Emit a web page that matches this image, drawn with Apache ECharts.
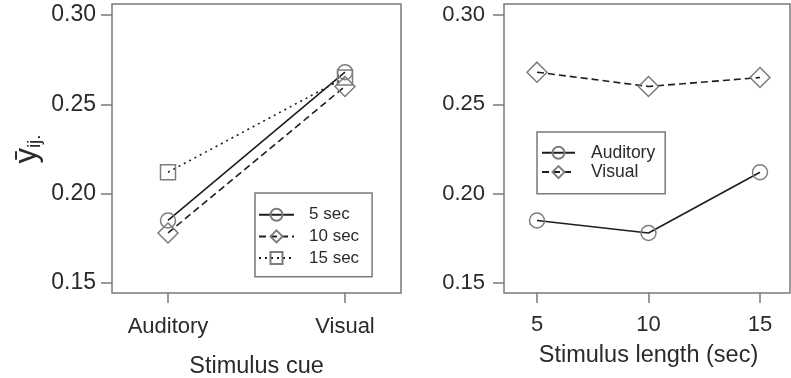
<!DOCTYPE html>
<html><head><meta charset="utf-8">
<script src="https://cdn.jsdelivr.net/npm/echarts@6/dist/echarts.min.js"></script>
<style>html,body{margin:0;padding:0;background:#fff}#c{width:791px;height:378px}</style>
</head><body><div id="c"></div>
<script>
// ---- data ----
const cueLabels = ['Auditory', 'Visual'];
const lengthLabels = ['5', '10', '15'];
const sec5 = [0.185, 0.268];
const sec10 = [0.178, 0.260];
const sec15 = [0.212, 0.265];
const auditory = [0.185, 0.178, 0.212];
const visual = [0.268, 0.260, 0.265];
const yTicks = [0.15, 0.20, 0.25, 0.30];

// ---- styles ----
const FONT = 'Liberation Sans';
const FRAME = '#7a7a7a';
const TXT = '#2a2a2a';
const LINE = '#1e1e1e';
const MARK = '#7d7d7d';

const chart = echarts.init(document.getElementById('c'), null, {renderer: 'canvas'});

function innerY(gridIndex, offset, margin, size) {
  return {
    type: 'value', gridIndex: gridIndex, min: yTicks[0], max: yTicks[yTicks.length - 1], interval: 0.05,
    offset: offset, splitLine: {show: false},
    axisLine: {show: false},
    axisTick: {show: true, length: 11, lineStyle: {color: FRAME, width: 1.5}},
    axisLabel: {margin: margin, fontFamily: FONT, fontSize: size, color: TXT, formatter: v => v.toFixed(2)}
  };
}
function innerX(gridIndex, data, name, nameGap, margin) {
  return {
    type: 'category', gridIndex: gridIndex, data: data, boundaryGap: false, offset: 10,
    axisLine: {show: false},
    axisTick: {show: true, length: 10, lineStyle: {color: FRAME, width: 1.5}},
    axisLabel: {margin: margin, fontFamily: FONT, fontSize: 22, color: TXT},
    name: name, nameLocation: 'middle', nameGap: nameGap,
    nameTextStyle: {fontFamily: FONT, fontSize: 23.5, color: TXT}
  };
}
function hiddenAxis(type, gridIndex) {
  return {type: 'value', gridIndex: gridIndex, show: false, min: 0, max: 1};
}
function mkSeries(name, data, xi, symbol, size, lineType) {
  return {
    type: 'line', name: name, data: data, xAxisIndex: xi, yAxisIndex: xi,
    symbol: symbol, symbolSize: size, showSymbol: true,
    lineStyle: {color: LINE, width: 1.6, type: lineType},
    itemStyle: {color: 'rgba(0,0,0,0)', borderColor: MARK, borderWidth: 1.5},
    emphasis: {disabled: true}, animation: false
  };
}
const G = {containLabel: false, outerBoundsMode: 'none'};

const option = {
  animation: false,
  grid: [
    Object.assign({left: 112, top: 4, width: 289, height: 289, show: true, borderColor: FRAME, borderWidth: 1.5, backgroundColor: 'transparent'}, G),
    Object.assign({left: 168, top: 15, width: 177, height: 268}, G),
    Object.assign({left: 504, top: 4, width: 286, height: 289, show: true, borderColor: FRAME, borderWidth: 1.5, backgroundColor: 'transparent'}, G),
    Object.assign({left: 537, top: 15, width: 223, height: 268}, G)
  ],
  xAxis: [
    innerX(1, cueLabels, 'Stimulus cue', 62, 23),
    innerX(3, lengthLabels, 'Stimulus length (sec)', 51, 21),
    hiddenAxis('x', 0),
    hiddenAxis('x', 2)
  ],
  yAxis: [
    innerY(1, 56, 16, 23),
    innerY(3, 33, 19, 22),
    hiddenAxis('y', 0),
    hiddenAxis('y', 2)
  ],
  legend: [
    {
      data: ['5 sec', '10 sec', '15 sec'], orient: 'vertical', left: 255, top: 193,
      padding: [11, 13, 8, 3], borderColor: FRAME, borderWidth: 1.5,
      itemWidth: 35, itemHeight: 15, itemGap: 0, selectedMode: false,
      textStyle: {fontFamily: FONT, fontSize: 17, color: TXT, lineHeight: 21.6, padding: [0, 0, 0, 10]}
    },
    {
      data: ['Auditory', 'Visual'], orient: 'vertical', left: 537, top: 132,
      padding: [11, 10, 12, 4], borderColor: FRAME, borderWidth: 1.5,
      itemWidth: 33, itemHeight: 15, itemGap: 0, selectedMode: false,
      textStyle: {fontFamily: FONT, fontSize: 17.5, color: TXT, lineHeight: 19.4, padding: [0, 0, 0, 11]}
    }
  ],
  series: [
    mkSeries('5 sec', sec5, 0, 'circle', 15, 'solid'),
    mkSeries('10 sec', sec10, 0, 'diamond', 20, [7, 4]),
    mkSeries('15 sec', sec15, 0, 'rect', 15, [2, 4]),
    mkSeries('Auditory', auditory, 1, 'circle', 15, 'solid'),
    mkSeries('Visual', visual, 1, 'diamond', 20, [7, 4])
  ],
  graphic: [
    {
      type: 'text', x: 27, y: 149, rotation: Math.PI / 2,
      style: {
        text: '{a|\u0233}{b|ij.}',
        align: 'center', verticalAlign: 'middle',
        rich: {
          a: {fontFamily: FONT + ', DejaVu Sans', fontSize: 31, fill: TXT, lineHeight: 34},
          b: {fontFamily: FONT, fontSize: 19, fill: TXT, lineHeight: 34, verticalAlign: 'bottom'}
        }
      }
    }
  ]
};
chart.setOption(option);
</script></body></html>
